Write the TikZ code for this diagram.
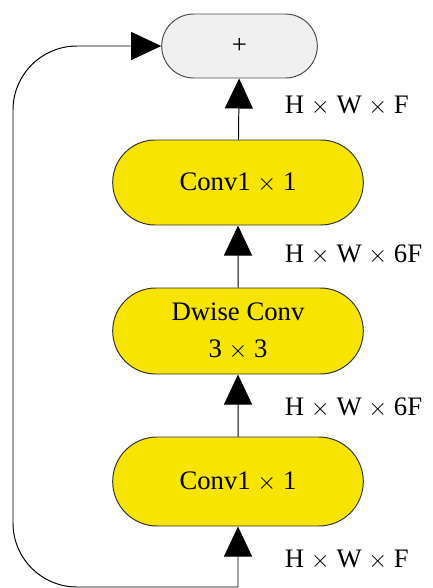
\documentclass[tikz,border=0pt]{standalone}
\usepackage{fontspec}
\setmainfont{Liberation Serif}
\usetikzlibrary{shapes.misc,arrows.meta}
\definecolor{blockyellow}{HTML}{F7E400}
\definecolor{sumgray}{HTML}{F0F0F0}
\tikzset{
    block/.style={rounded rectangle, draw=black!80, line width=0.7pt, fill=blockyellow,
        minimum width=260*0.025cm, align=center, font=\fontsize{19}{26}\selectfont},
    sumnode/.style={rounded rectangle, draw=black!70, line width=0.7pt, fill=sumgray,
        minimum width=165*0.025cm, minimum height=64*0.025cm, font=\fontsize{19}{22}\selectfont},
    arr/.style={line width=0.7pt, -{Triangle[length=0.75cm, width=0.7cm]}},
    dims/.style={anchor=west, font=\fontsize{19}{22}\selectfont}
}
\begin{document}
\begin{tikzpicture}[x=0.025cm, y=-0.025cm]
    \useasboundingbox (0,0) rectangle (433,588);
    % Draw blocks
    \node (plus) [sumnode] at (239.5,46) {+};
    \node (conv_a) [block, minimum height=85*0.025cm] at (238,182.5) {Conv1 $\times$ 1};
    \node (dwise) [block, minimum height=86*0.025cm] at (238,331) {Dwise Conv\\3 $\times$ 3};
    \node (conv_b) [block, minimum height=89*0.025cm] at (238,481.5) {Conv1 $\times$ 1};
    \coordinate (in) at (238,587);
    \coordinate (skip) at (13,587);
    % Draw arrows
    \draw[arr] (in) -- (conv_b);
    \draw[arr] (conv_b) -- (dwise);
    \draw[arr] (dwise) -- (conv_a);
    \draw[arr] (conv_a) -- (plus);
    \draw[arr, rounded corners=1.6cm] (in) -- (skip) |- (plus.west);
    % Draw sizes
    \node (d_1) [dims] at (280,560) {H $\times$ W $\times$ F};
    \node (d_2) [dims] at (280,408) {H $\times$ W $\times$ 6F};
    \node (d_3) [dims] at (280,255) {H $\times$ W $\times$ 6F};
    \node (d_4) [dims] at (280,106) {H $\times$ W $\times$ F};
\end{tikzpicture}
\end{document}
